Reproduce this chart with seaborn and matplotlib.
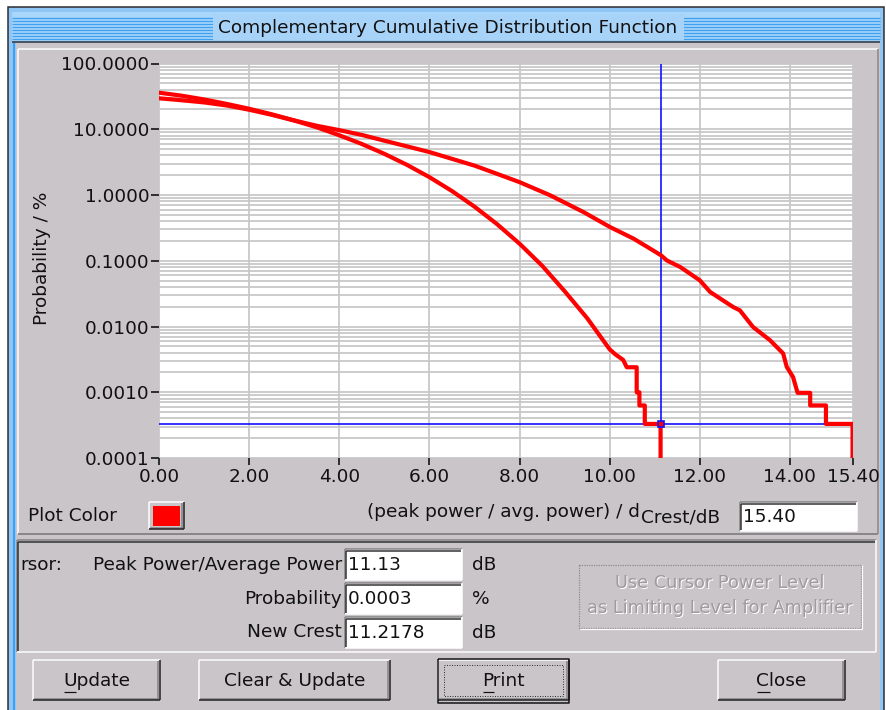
import numpy as np
import pandas as pd
import matplotlib
matplotlib.use("Agg")
import matplotlib.pyplot as plt
from matplotlib.patches import Rectangle
from matplotlib.ticker import FixedLocator, FixedFormatter, LogLocator, NullFormatter
import seaborn as sns

# ---------------- data ----------------
title = "Complementary Cumulative Distribution Function"
x_ticks = [0, 2, 4, 6, 8, 10, 12, 14, 15.4]
x_tick_labels = ["0.00", "2.00", "4.00", "6.00", "8.00", "10.00", "12.00", "14.00", "15.40"]
y_ticks = [0.0001, 0.001, 0.01, 0.1, 1, 10, 100]
y_tick_labels = ["0.0001", "0.0010", "0.0100", "0.1000", "1.0000", "10.0000", "100.0000"]

crest_a_db = [0.0, 0.5, 1.0, 1.5, 2.0, 2.5, 3.0, 3.5, 4.0, 4.5, 5.0, 5.5, 6.0, 6.5,
              7.0, 7.5, 8.0, 8.5, 9.0, 9.5, 10.0, 10.12, 10.3, 10.38, 10.6, 10.6,
              10.66, 10.66, 10.78, 10.78, 11.13, 11.13]
prob_a_pct = [36.0, 32.4, 28.4, 24.3, 20.5, 16.9, 13.6, 10.7, 8.1, 5.97, 4.23, 2.88,
              1.87, 1.15, 0.666, 0.361, 0.182, 0.0843, 0.0345, 0.0134, 0.0045, 0.0038,
              0.0031, 0.0024, 0.0024, 0.0010, 0.0010, 0.00063, 0.00063, 0.00033,
              0.00033, 0.00005]

crest_b_db = [0.0, 0.5, 1.0, 1.5, 2.0, 2.5, 3.0, 3.5, 4.0, 4.5, 5.0, 5.5, 6.0, 6.5,
              7.0, 7.5, 8.0, 8.68, 9.42, 10.01, 10.53, 10.96, 11.14, 11.27, 11.57,
              12.0, 12.23, 12.74, 12.89, 13.18, 13.56, 13.85, 13.93, 14.07, 14.17,
              14.45, 14.45, 14.8, 14.8, 15.39, 15.39]
prob_b_pct = [29.6, 27.6, 25.6, 23.0, 19.8, 16.6, 13.6, 11.3, 9.7, 8.2, 6.7, 5.5,
              4.5, 3.55, 2.8, 2.1, 1.57, 0.99, 0.55, 0.325, 0.217, 0.144, 0.121,
              0.101, 0.080, 0.0504, 0.0335, 0.0198, 0.0176, 0.00985, 0.00617,
              0.00389, 0.00243, 0.0017, 0.00098, 0.00098, 0.00063, 0.00063, 0.00033,
              0.00033, 0.00005]

cursor_db = 11.13
cursor_prob_pct = 0.00033

field_crest = "15.40"
field_peak = "11.13"
field_prob = "0.0003"
field_new_crest = "11.2178"

# ---------------- style ----------------
sns.set_style("white")
plt.rcParams["font.family"] = ["DejaVu Sans"]
FS = 13.3
TXT = "#111111"
GRAY = "#C9C5C9"
W, H = 886, 710

fig = plt.figure(figsize=(W / 100, H / 100), dpi=100, facecolor="white")

# background axes in pixel coordinates for dialog chrome
bg = fig.add_axes([0, 0, 1, 1], zorder=0)
bg.set_xlim(0, W)
bg.set_ylim(H, 0)
bg.axis("off")


def rect(x0, y0, x1, y1, fc, ec="none", lw=0, z=1, ls="-"):
    bg.add_patch(Rectangle((x0, y0), x1 - x0, y1 - y0, facecolor=fc, edgecolor=ec,
                           lw=lw * 0.72, zorder=z, linestyle=ls))


def line(xs, ys, color, lw=1, z=3, ls="-"):
    bg.plot(xs, ys, color=color, lw=lw * 0.72, zorder=z, solid_capstyle="butt", ls=ls)


def raised(x0, y0, x1, y1, z=3):
    line([x0, x1], [y0, y0], "white", 1.5, z)
    line([x0, x0], [y0, y1], "white", 1.5, z)
    line([x0 + 1, x1 - 1], [y1 - 1.5, y1 - 1.5], "#858285", 1.5, z)
    line([x1 - 1.5, x1 - 1.5], [y0 + 1, y1 - 1], "#858285", 1.5, z)
    line([x0, x1 + 0.5], [y1, y1], "#202020", 1.5, z)
    line([x1, x1], [y0, y1], "#202020", 1.5, z)


def sunken(x0, y0, x1, y1, fc=None, z=3):
    if fc is not None:
        rect(x0, y0, x1, y1, fc, z=z - 1)
    line([x0, x1], [y0, y0], "#858285", 1.5, z)
    line([x0, x0], [y0, y1], "#858285", 1.5, z)
    line([x0 + 1.5, x1 - 1], [y0 + 1.5, y0 + 1.5], "#303030", 1.5, z)
    line([x0 + 1.5, x0 + 1.5], [y0 + 1.5, y1 - 1], "#303030", 1.5, z)
    line([x0, x1], [y1, y1], "white", 1.5, z)
    line([x1, x1], [y0, y1], "white", 1.5, z)


# window frame
rect(8, 7, 884, H + 5, "#8FC6F5", ec="#2A2A2A", lw=1.5, z=1)
# title bar
rect(12, 12, 880, 41, "#A9D6FB", z=1.5)
for yy in np.arange(17.5, 40, 3):
    line([12, 880], [yy, yy], "#3FA0F0", 1.3, 2)
rect(213, 14, 684, 40, "#A8D3F8", z=2.5)
bg.text(448, 28, title, ha="center", va="center", fontsize=FS, color=TXT, zorder=4)
line([12, 880], [42, 42], "#333333", 1.5, 3)
# body
rect(16, 43, 880, H + 5, GRAY, z=1.5)
line([14, 14], [43, H], "#3F9FEF", 2.0, 2)
# plot panel (raised)
line([18, 878], [49, 49], "white", 1.5, 3)
line([18, 18], [49, 534], "white", 1.5, 3)
line([18, 878], [534, 534], "#8A878A", 2, 3)
line([878, 878], [49, 534], "#8A878A", 1.5, 3)

# bottom row of plot panel
bg.text(28, 516, "Plot Color", ha="left", va="center", fontsize=FS, color=TXT)
raised(149, 502, 184, 529)
rect(153, 506, 180, 526, "#FF0000", z=4)
bg.text(640, 512, "(peak power / avg. power) / d", ha="right", va="center",
        fontsize=FS, color=TXT)
bg.text(641, 518, "Crest/dB", ha="left", va="center", fontsize=FS, color=TXT)
sunken(740, 502, 857, 531, fc="white")
bg.text(743, 517, field_crest, ha="left", va="center", fontsize=FS, color=TXT, zorder=4)

# group box
sunken(17, 540, 876, 652)
bg.text(20, 565, "rsor:", ha="left", va="center", fontsize=FS, color=TXT)
bg.text(342, 565, "Peak Power/Average Power", ha="right", va="center",
        fontsize=FS, color=TXT)
bg.text(342, 599, "Probability", ha="right", va="center", fontsize=FS, color=TXT)
bg.text(342, 632, "New Crest", ha="right", va="center", fontsize=FS, color=TXT)
for (yy0, val, unit) in [(549, field_peak, "dB"), (583, field_prob, "%"),
                         (617, field_new_crest, "dB")]:
    sunken(345, yy0, 462, yy0 + 31, fc="white")
    bg.text(348, yy0 + 16, val, ha="left", va="center", fontsize=FS, color=TXT, zorder=4)
    bg.text(472, yy0 + 16, unit, ha="left", va="center", fontsize=FS, color=TXT)

# disabled button
rect(579, 565, 861, 628, "none", ec="#8A878A", lw=1.2, z=3, ls=(0, (1, 1)))
line([580, 862], [629, 629], "white", 1.2, 3)
line([862, 862], [565, 629], "white", 1.2, 3)
for yy, s in [(583, "Use Cursor Power Level"), (608, "as Limiting Level for Amplifier")]:
    bg.text(721, yy + 1, s, ha="center", va="center", fontsize=FS - 0.5, color="white")
    bg.text(720, yy, s, ha="center", va="center", fontsize=FS - 0.5, color="#9E9A9E")

# buttons
for (x0, x1, label) in [(33, 160, "Update"), (199, 390, "Clear & Update"),
                        (438, 569, "Print"), (718, 845, "Close")]:
    raised(x0, 660, x1, 700)
    bg.text((x0 + x1) / 2, 681, label, ha="center", va="center", fontsize=FS, color=TXT)
line([438, 569, 569, 438, 438], [658.5, 658.5, 702.5, 702.5, 658.5], "#111111", 1.5, 4)
rect(444, 665, 563, 696, "none", ec="#333333", lw=1, z=4, ls=(0, (1, 1.5)))
# mnemonic underlines
line([64, 76], [692, 692], TXT, 1.2, 4)
line([483, 494], [692, 692], TXT, 1.2, 4)
line([757, 770], [692, 692], TXT, 1.2, 4)

# ---------------- chart ----------------
ax = fig.add_axes([159 / W, (H - 458) / H, 694 / W, (458 - 63.5) / H], zorder=2)
ax.set_facecolor("white")
df_a = pd.DataFrame({"crest": crest_a_db, "prob": prob_a_pct})
df_b = pd.DataFrame({"crest": crest_b_db, "prob": prob_b_pct})
ax.set_yscale("log")
ax.grid(True, which="both", axis="y", color="#C8C8C8", lw=1.3)
ax.grid(True, which="major", axis="x", color="#C8C8C8", lw=1.3)
ax.axvline(cursor_db, color="#1010FF", lw=1.2, zorder=3)
ax.axhline(cursor_prob_pct, color="#1010FF", lw=1.2, zorder=3)
sns.lineplot(data=df_a, x="crest", y="prob", sort=False, estimator=None,
             color="#FF0000", lw=3.0, ax=ax, zorder=4)
sns.lineplot(data=df_b, x="crest", y="prob", sort=False, estimator=None,
             color="#FF0000", lw=3.0, ax=ax, zorder=4)
ax.plot([cursor_db], [cursor_prob_pct], marker="s", ms=5, mfc="#FF0000",
        mec="#1010FF", mew=1.2, zorder=5, clip_on=False)
ax.set_xlim(0, 15.4)
ax.set_ylim(1e-4, 100)
ax.xaxis.set_major_locator(FixedLocator(x_ticks))
ax.xaxis.set_major_formatter(FixedFormatter(x_tick_labels))
ax.yaxis.set_major_locator(FixedLocator(y_ticks))
ax.yaxis.set_major_formatter(FixedFormatter(y_tick_labels))
ax.yaxis.set_minor_locator(LogLocator(base=10, subs=np.arange(2, 10), numticks=20))
ax.yaxis.set_minor_formatter(NullFormatter())
ax.tick_params(axis="both", which="major", direction="out", length=5.5, width=1.3,
               color="#222222", labelsize=FS, labelcolor=TXT, pad=1.5,
               left=True, bottom=True)
ax.tick_params(axis="x", which="major", length=5, pad=2.5)
ax.tick_params(axis="both", which="minor", length=0, left=False, bottom=False)
ax.set_xlabel("")
ax.set_ylabel("")
for sp in ax.spines.values():
    sp.set_visible(False)

bg.text(42, 258, "Probability / %", rotation=90, ha="center", va="center",
        fontsize=FS, color=TXT)

fig.savefig("out.png", dpi=100, facecolor="white")
